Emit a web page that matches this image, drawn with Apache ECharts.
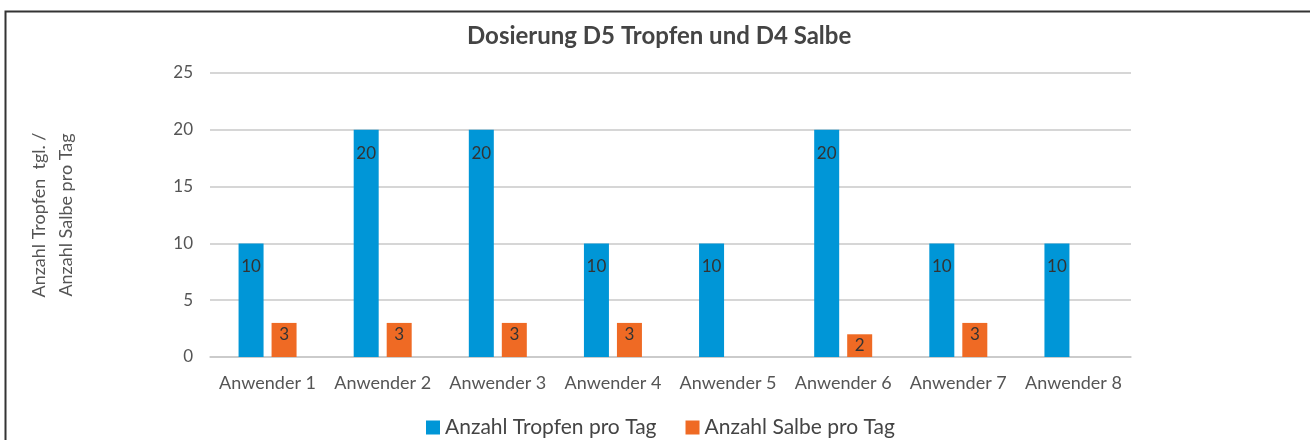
<!DOCTYPE html>
<html>
<head>
<meta charset="utf-8">
<script src="https://cdn.jsdelivr.net/npm/echarts@6/dist/echarts.min.js"></script>
<style>
  html, body { margin: 0; padding: 0; background: #fff; }
  #chart { width: 1310px; height: 440px; }
</style>
</head>
<body>
<div id="chart"></div>
<script>
// Daten
var kategorien = ['Anwender 1', 'Anwender 2', 'Anwender 3', 'Anwender 4', 'Anwender 5', 'Anwender 6', 'Anwender 7', 'Anwender 8'];
var tropfen = [10, 20, 20, 10, 10, 20, 10, 10];
var salbe = [3, 3, 3, 3, null, 2, 3, null];
var yTicks = [0, 5, 10, 15, 20, 25];

var schrift = 'Lato, "Open Sans", sans-serif';
var myChart = echarts.init(document.getElementById('chart'));

var option = {
    animation: false,
    textStyle: { fontFamily: schrift },
    title: {
        text: 'Dosierung D5 Tropfen und D4 Salbe',
        left: 462,
        top: 19,
        textStyle: { fontSize: 24, fontWeight: 'bold', color: '#444', fontFamily: schrift }
    },
    graphic: [{     // Rahmen oben / links
        type: 'polyline',
        shape: { points: [[5.5, 445], [5.5, 11.5], [1315, 11.5]] },
        style: { stroke: '#333', lineWidth: 2, fill: null }
    }],
    legend: {
        top: 412,
        left: 421,
        icon: 'rect',
        itemWidth: 14,
        itemHeight: 14,
        itemGap: 29,
        textStyle: { fontSize: 21, color: '#444', fontFamily: schrift }
    },
    grid: {
        left: 210,
        right: 179,
        top: 73,
        bottom: 83
    },
    xAxis: {
        type: 'category',
        data: kategorien,
        axisTick: { show: false },
        axisLine: { lineStyle: { color: '#c8c8c8', width: 1.5 } },
        axisLabel: { color: '#555', fontSize: 18, margin: 17, interval: 0 }
    },
    yAxis: {
        type: 'value',
        min: yTicks[0],
        max: yTicks[yTicks.length - 1],
        interval: 5,
        name: 'Anzahl Tropfen  tgl. /\nAnzahl Salbe pro Tag',
        nameLocation: 'middle',
        nameRotate: 90,
        nameGap: 130,
        nameTextStyle: { color: '#555', fontSize: 18, lineHeight: 27 },
        axisLabel: { color: '#555', fontSize: 17, margin: 17 },
        splitLine: { lineStyle: { color: '#c8c8c8', width: 1.5 } }
    },
    series: [
        {
            name: 'Anzahl Tropfen pro Tag',
            type: 'bar',
            data: tropfen,
            barWidth: 25,
            barGap: '32%',
            itemStyle: { color: '#0096D7' },
            label: { show: true, position: 'insideTop', distance: 15, color: '#333', fontSize: 17 }
        },
        {
            name: 'Anzahl Salbe pro Tag',
            type: 'bar',
            data: salbe,
            barWidth: 25,
            itemStyle: { color: '#EF6A24' },
            label: { show: true, position: 'insideTop', distance: 3, color: '#333', fontSize: 17 }
        }
    ]
};

myChart.setOption(option);
</script>
</body>
</html>
